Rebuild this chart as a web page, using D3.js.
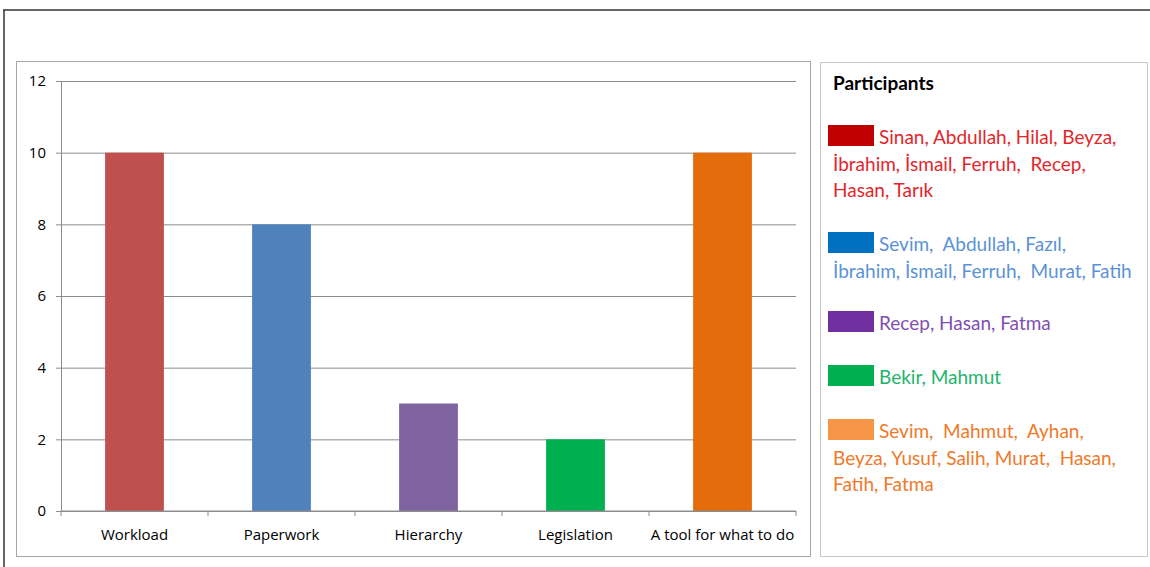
<!DOCTYPE html>
<html>
<head>
<meta charset="utf-8">
<script src="https://cdn.jsdelivr.net/npm/d3@7"></script>
<style>
  body { margin: 0; background: #fff; }
  svg { display: block; }
</style>
</head>
<body>
<svg id="chart"></svg>
<script>
// categories and counts
const categories = ["Workload", "Paperwork", "Hierarchy", "Legislation", "A tool for what to do"];
const counts = [10, 8, 3, 2, 10];
const barColors = ["#C0504D", "#4F81BD", "#8064A2", "#00B050", "#E46C0A"];
const yTicks = [0, 2, 4, 6, 8, 10, 12];

// legend groups (text lines as wrapped in the picture)
const legendTitle = "Participants";
const swatchColors = ["#C00000", "#0070C0", "#7030A0", "#00B050", "#F79646"];
const textColors = ["#E3262B", "#5B92D6", "#7F4FB2", "#1DB56C", "#EE7A2A"];
const participantLines = [
    ["Sinan, Abdullah, Hilal, Beyza,", "İbrahim, İsmail, Ferruh,  Recep,", "Hasan, Tarık"],
    ["Sevim,  Abdullah, Fazıl,", "İbrahim, İsmail, Ferruh,  Murat, Fatih"],
    ["Recep, Hasan, Fatma"],
    ["Bekir, Mahmut"],
    ["Sevim,  Mahmut,  Ayhan,", "Beyza, Yusuf, Salih, Murat,  Hasan,", "Fatih, Fatma"]
];

const width = 1150, height = 567;
const svg = d3.select("#chart").attr("width", width).attr("height", height);

// outer frame lines
svg.append("line").attr("x1", 3).attr("x2", width).attr("y1", 10).attr("y2", 10)
    .attr("stroke", "#333").attr("stroke-width", 1.5);
svg.append("line").attr("x1", 4).attr("x2", 4).attr("y1", 10).attr("y2", height)
    .attr("stroke", "#333").attr("stroke-width", 1.5);

// chart box
svg.append("rect").attr("x", 16.5).attr("y", 61.5).attr("width", 794).attr("height", 495)
    .attr("fill", "#fff").attr("stroke", "#a6a6a6").attr("stroke-width", 1);
// legend box
svg.append("rect").attr("x", 820.5).attr("y", 62.5).attr("width", 327).attr("height", 494)
    .attr("fill", "#fff").attr("stroke", "#c8c8c8").attr("stroke-width", 1);

const plot = { left: 61, right: 796, top: 81, bottom: 511 };

const x = d3.scaleBand()
    .domain(categories)
    .range([plot.left, plot.right]);

const y = d3.scaleLinear()
    .domain([0, 12])
    .range([plot.bottom, plot.top]);

const g = svg.append("g");

// horizontal gridlines
g.append("g")
    .attr("transform", `translate(${plot.left},0)`)
    .call(d3.axisLeft(y).tickValues(yTicks).tickSize(-(plot.right - plot.left)).tickFormat(""))
    .call(a => a.select(".domain").remove())
    .selectAll("line").attr("stroke", "#8c8c8c");

// y axis
g.append("g")
    .attr("transform", `translate(${plot.left},0)`)
    .call(d3.axisLeft(y).tickValues(yTicks).tickSize(5).tickPadding(10))
    .call(a => a.select(".domain").attr("stroke", "#8c8c8c"))
    .call(a => a.selectAll("line").attr("stroke", "#8c8c8c"))
    .selectAll("text")
    .style("font-family", "'Open Sans', sans-serif")
    .style("font-size", "15px")
    .attr("fill", "#000");

// bars
g.selectAll("rect.bar")
    .data(categories)
    .enter().append("rect")
    .attr("class", "bar")
    .attr("x", d => x(d) + x.bandwidth() * 0.3)
    .attr("width", x.bandwidth() * 0.4)
    .attr("y", (d, i) => y(counts[i]))
    .attr("height", (d, i) => y(0) - y(counts[i]))
    .attr("fill", (d, i) => barColors[i]);

// x axis with ticks between categories
const xAxis = g.append("g").attr("transform", `translate(0,${plot.bottom})`);
xAxis.append("line").attr("x1", plot.left).attr("x2", plot.right)
    .attr("stroke", "#8c8c8c");
xAxis.selectAll("line.tick")
    .data(categories.concat([null]))
    .enter().append("line")
    .attr("class", "tick")
    .attr("x1", (d, i) => plot.left + i * x.step())
    .attr("x2", (d, i) => plot.left + i * x.step())
    .attr("y1", 0).attr("y2", 5)
    .attr("stroke", "#8c8c8c");
xAxis.selectAll("text")
    .data(categories)
    .enter().append("text")
    .attr("x", d => x(d) + x.bandwidth() / 2)
    .attr("y", 29)
    .attr("text-anchor", "middle")
    .style("font-family", "'Open Sans', sans-serif")
    .style("font-size", "15px")
    .attr("fill", "#000")
    .text(d => d);

// legend
const legend = svg.append("g");
legend.append("text")
    .attr("x", 833).attr("y", 90)
    .style("font-family", "Lato, sans-serif")
    .style("font-size", "19px")
    .style("font-weight", "bold")
    .attr("fill", "#000")
    .text(legendTitle);

const groupTops = [125, 232, 311, 365, 419];
const lineH = 26.5;

participantLines.forEach((lines, i) => {
    const top = groupTops[i];
    legend.append("rect")
        .attr("x", 828).attr("y", top)
        .attr("width", 46).attr("height", 21)
        .attr("fill", swatchColors[i]);
    const t = legend.append("text")
        .style("font-family", "Lato, sans-serif")
        .style("font-size", "19px")
        .style("white-space", "pre")
        .attr("fill", textColors[i]);
    lines.forEach((line, j) => {
        t.append("tspan")
            .attr("x", j === 0 ? 879 : 833)
            .attr("y", top + 19 + j * lineH)
            .text(line);
    });
});
</script>
</body>
</html>
